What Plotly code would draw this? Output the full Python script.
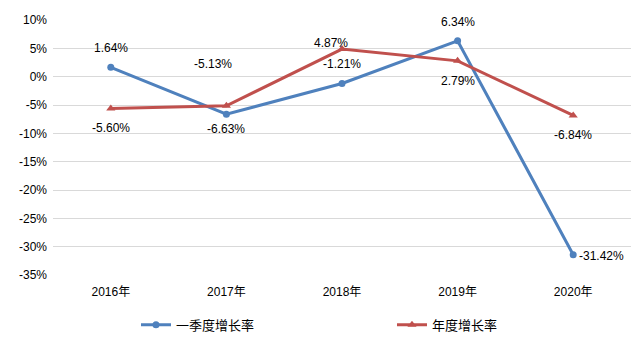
import plotly.graph_objects as go

years = ["2016年", "2017年", "2018年", "2019年", "2020年"]
q1_growth = [1.64, -6.63, -1.21, 6.34, -31.42]
annual_growth = [-5.60, -5.13, 4.87, 2.79, -6.84]
y_ticks = [10, 5, 0, -5, -10, -15, -20, -25, -30, -35]

BLUE = "#4F81BD"
RED = "#C0504D"
FONT = "Liberation Sans, Noto Sans CJK SC, sans-serif"

fig = go.Figure()
fig.add_trace(go.Scatter(
    x=years, y=q1_growth, name="一季度增长率", mode="lines+markers",
    line=dict(color=BLUE, width=3), marker=dict(symbol="circle", size=7, color=BLUE),
))
fig.add_trace(go.Scatter(
    x=years, y=annual_growth, name="年度增长率", mode="lines+markers",
    line=dict(color=RED, width=3), marker=dict(symbol="triangle-up", size=8, color=RED),
))

# label offsets (xshift, yshift, xanchor) for each point
q1_offsets = [(0, 19, "center"), (0, -15, "center"), (0, 20, "center"), (0, 19, "center"), (4, -1, "left")]
annual_offsets = [(0, -20, "center"), (-13, 42, "center"), (-11, 6, "center"), (0, -20, "center"), (0, -20, "center")]

for series, offsets in ((q1_growth, q1_offsets), (annual_growth, annual_offsets)):
    for yr, v, (dx, dy, anchor) in zip(years, series, offsets):
        fig.add_annotation(
            x=yr, y=v, text=f"{v:.2f}%", showarrow=False,
            xshift=dx, yshift=dy, xanchor=anchor, yanchor="middle",
            font=dict(size=12, color="#000000", family=FONT),
        )

fig.update_layout(
    width=643, height=340,
    margin=dict(l=53, r=12, t=20, b=65, autoexpand=False),
    paper_bgcolor="white", plot_bgcolor="white",
    font=dict(family=FONT, size=12, color="#000000"),
    showlegend=True,
    legend=dict(
        orientation="h", xref="container", yref="container",
        x=0.2115, y=0.089, xanchor="left", yanchor="top",
        entrywidth=211, entrywidthmode="pixels",
        font=dict(size=13, family=FONT),
    ),
    xaxis=dict(
        range=[-0.5, 4.5],
        showgrid=False, showline=False, ticks="", zeroline=False,
        tickfont=dict(size=12), ticklabelstandoff=8,
    ),
    yaxis=dict(
        range=[-35, 10], tickvals=y_ticks,
        ticktext=[f"{t}%" for t in y_ticks],
        showgrid=True, gridcolor="#D9D9D9", gridwidth=1,
        zeroline=False, showline=False, ticks="",
        tickfont=dict(size=12), ticklabelstandoff=5,
    ),
)

fig.write_html("out.html")
